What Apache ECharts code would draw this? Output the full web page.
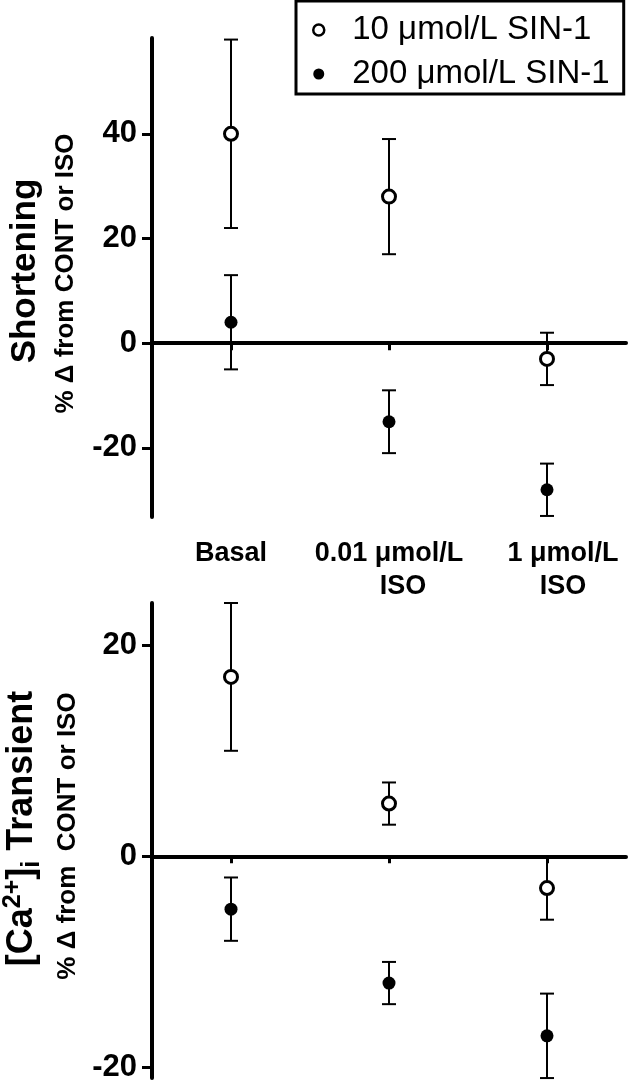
<!DOCTYPE html>
<html>
<head>
<meta charset="utf-8">
<script src="https://cdn.jsdelivr.net/npm/echarts@6/dist/echarts.min.js"></script>
<style>
html,body{margin:0;padding:0;background:#fff;}
#chart{width:632px;height:1083px;}
</style>
</head>
<body>
<div id="chart"></div>
<script>
// ---- data ----
const categories = ['Basal', '0.01 μmol/L\nISO', '1 μmol/L\nISO'];
const seriesNames = ['10 μmol/L SIN-1', '200 μmol/L SIN-1'];

// Shortening (% Δ from CONT or ISO)
const short10Mean = [40, 28, -3];
const short10Low  = [22, 17, -8];
const short10High = [58, 39, 2];
const short200Mean = [4, -15, -28];
const short200Low  = [-5, -21, -33];
const short200High = [13, -9, -23];

// [Ca2+]i transient (% Δ from CONT or ISO)
const ca10Mean = [17, 5, -3];
const ca10Low  = [10, 3, -6];
const ca10High = [24, 7, 0];
const ca200Mean = [-5, -12, -17];
const ca200Low  = [-8, -14, -21];
const ca200High = [-2, -10, -13];

const shortTicks = [-20, 0, 20, 40];
const caTicks = [-20, 0, 20];

// ---- chart ----
const FONT = "'Liberation Sans', Arial, Helvetica, sans-serif";
const chart = echarts.init(document.getElementById('chart'), null, {renderer: 'canvas'});

function errData(low, high) {
  return low.map((l, i) => [i, l, high[i]]);
}
function meanData(mean) {
  return mean.map((m, i) => [i, m]);
}
function renderErr(params, api) {
  const x = api.value(0);
  const lo = api.coord([x, api.value(1)]);
  const hi = api.coord([x, api.value(2)]);
  const hw = 7;
  const st = {stroke: '#000', lineWidth: 2};
  return {
    type: 'group',
    children: [
      {type: 'line', shape: {x1: hi[0], y1: hi[1], x2: lo[0], y2: lo[1]}, style: st},
      {type: 'line', shape: {x1: hi[0] - hw, y1: hi[1], x2: hi[0] + hw, y2: hi[1]}, style: st},
      {type: 'line', shape: {x1: lo[0] - hw, y1: lo[1], x2: lo[0] + hw, y2: lo[1]}, style: st}
    ]
  };
}

const openStyle = {color: '#fff', borderColor: '#000', borderWidth: 3, opacity: 1};
const filledStyle = {color: '#000', borderColor: '#000', borderWidth: 0, opacity: 1};

function yAxisDef(gridIndex, min, max, ticks) {
  return {
    type: 'value', gridIndex, min, max,
    axisLine: {show: true, lineStyle: {color: '#000', width: 4}},
    axisTick: {show: true, length: 10, lineStyle: {color: '#000', width: 3}, customValues: ticks},
    axisLabel: {show: true, customValues: ticks, margin: 15, color: '#000',
      fontSize: 31, fontWeight: 'bold', fontFamily: FONT},
    splitLine: {show: false}
  };
}
function zeroXAxis(gridIndex) {
  return {
    type: 'category', gridIndex, data: categories,
    axisLine: {show: true, onZero: true, lineStyle: {color: '#000', width: 4}},
    axisTick: {show: true, alignWithLabel: true, length: 7, lineStyle: {color: '#000', width: 3}},
    axisLabel: {show: false},
    splitLine: {show: false}
  };
}

const catLabelBase = {fontSize: 27, fontWeight: 'bold', fontFamily: FONT, color: '#000', lineHeight: 33};

function scatterSeries(name, xi, yi, style, mean) {
  return {name, type: 'scatter', xAxisIndex: xi, yAxisIndex: yi, symbol: 'circle', symbolSize: 13,
    itemStyle: style, data: meanData(mean), z: 5, emphasis: {disabled: true}};
}
function errSeries(name, xi, yi, style, low, high) {
  return {name, type: 'custom', xAxisIndex: xi, yAxisIndex: yi, renderItem: renderErr,
    data: errData(low, high), encode: {x: 0, y: [1, 2]}, z: 2, itemStyle: style, clip: false};
}

const option = {
  backgroundColor: '#fff',
  animation: false,
  grid: [
    {left: 152, right: 6, top: 38, height: 479},
    {left: 152, right: 6, top: 603, height: 476}
  ],
  legend: {
    orient: 'vertical', left: 296, top: 1,
    padding: [12, 14, 3, 16],
    itemWidth: 11, itemHeight: 11, itemGap: 10,
    borderColor: '#000', borderWidth: 3,
    data: [
      {name: seriesNames[0], icon: 'circle', itemStyle: {color: '#fff', borderColor: '#000', borderWidth: 2.5}},
      {name: seriesNames[1], icon: 'circle', itemStyle: {color: '#000', borderColor: '#000', borderWidth: 0}}
    ],
    textStyle: {fontSize: 33, fontFamily: FONT, color: '#000', lineHeight: 34, padding: [0, 0, 0, 23]}
  },
  xAxis: [
    zeroXAxis(0),
    {
      type: 'category', gridIndex: 0, data: categories, position: 'bottom',
      axisLine: {show: false, onZero: false}, axisTick: {show: false},
      axisLabel: {
        show: true, interval: 0, margin: 20, ...catLabelBase,
        formatter: function (value, index) {
          const parts = value.split('\n');
          if (parts.length === 1) return '{a|' + parts[0] + '}';
          if (index === 1) return '{a|' + parts[0] + '}\n{b|' + parts[1] + '}';
          return '{c|' + parts[0] + '}\n{c|' + parts[1] + '}';
        },
        rich: {
          a: {...catLabelBase},
          b: {...catLabelBase, padding: [0, 0, 0, 28]},
          c: {...catLabelBase, padding: [0, 0, 0, 32]}
        }
      },
      splitLine: {show: false}
    },
    zeroXAxis(1)
  ],
  yAxis: [
    yAxisDef(0, -33.2, 58.3, shortTicks),
    yAxisDef(1, -21, 24, caTicks)
  ],
  series: [
    scatterSeries(seriesNames[0], 0, 0, openStyle, short10Mean),
    scatterSeries(seriesNames[1], 0, 0, filledStyle, short200Mean),
    scatterSeries(seriesNames[0], 2, 1, openStyle, ca10Mean),
    scatterSeries(seriesNames[1], 2, 1, filledStyle, ca200Mean),
    errSeries(seriesNames[0], 0, 0, openStyle, short10Low, short10High),
    errSeries(seriesNames[1], 0, 0, filledStyle, short200Low, short200High),
    errSeries(seriesNames[0], 2, 1, openStyle, ca10Low, ca10High),
    errSeries(seriesNames[1], 2, 1, filledStyle, ca200Low, ca200High)
  ],
  graphic: [
    {type: 'text', x: 25.5, y: 271, rotation: Math.PI / 2,
      style: {text: 'Shortening', fontSize: 35, fontWeight: 'bold', fontFamily: FONT, fill: '#000',
        align: 'center', verticalAlign: 'middle'}},
    {type: 'text', x: 65.5, y: 273.5, rotation: Math.PI / 2,
      style: {text: '% Δ from CONT or ISO', fontSize: 26, fontWeight: 'bold', fontFamily: FONT, fill: '#000',
        align: 'center', verticalAlign: 'middle'}},
    {type: 'text', x: 22.5, y: 828.5, rotation: Math.PI / 2,
      style: {
        text: '{m|[Ca}{sup|2+}{m|]}{sub|i}{m| Transient}',
        align: 'center', verticalAlign: 'middle', fill: '#000',
        rich: {
          m: {fontSize: 36, fontWeight: 'bold', fontFamily: FONT, fill: '#000', lineHeight: 44},
          sup: {fontSize: 25, fontWeight: 'bold', fontFamily: FONT, fill: '#000', lineHeight: 25, verticalAlign: 'top'},
          sub: {fontSize: 25, fontWeight: 'bold', fontFamily: FONT, fill: '#000', lineHeight: 25, verticalAlign: 'bottom'}
        }
      }},
    {type: 'text', x: 67.5, y: 836, rotation: Math.PI / 2,
      style: {text: '% Δ from  CONT or ISO', fontSize: 26, fontWeight: 'bold', fontFamily: FONT, fill: '#000',
        align: 'center', verticalAlign: 'middle'}}
  ]
};
chart.setOption(option);
</script>
</body>
</html>
